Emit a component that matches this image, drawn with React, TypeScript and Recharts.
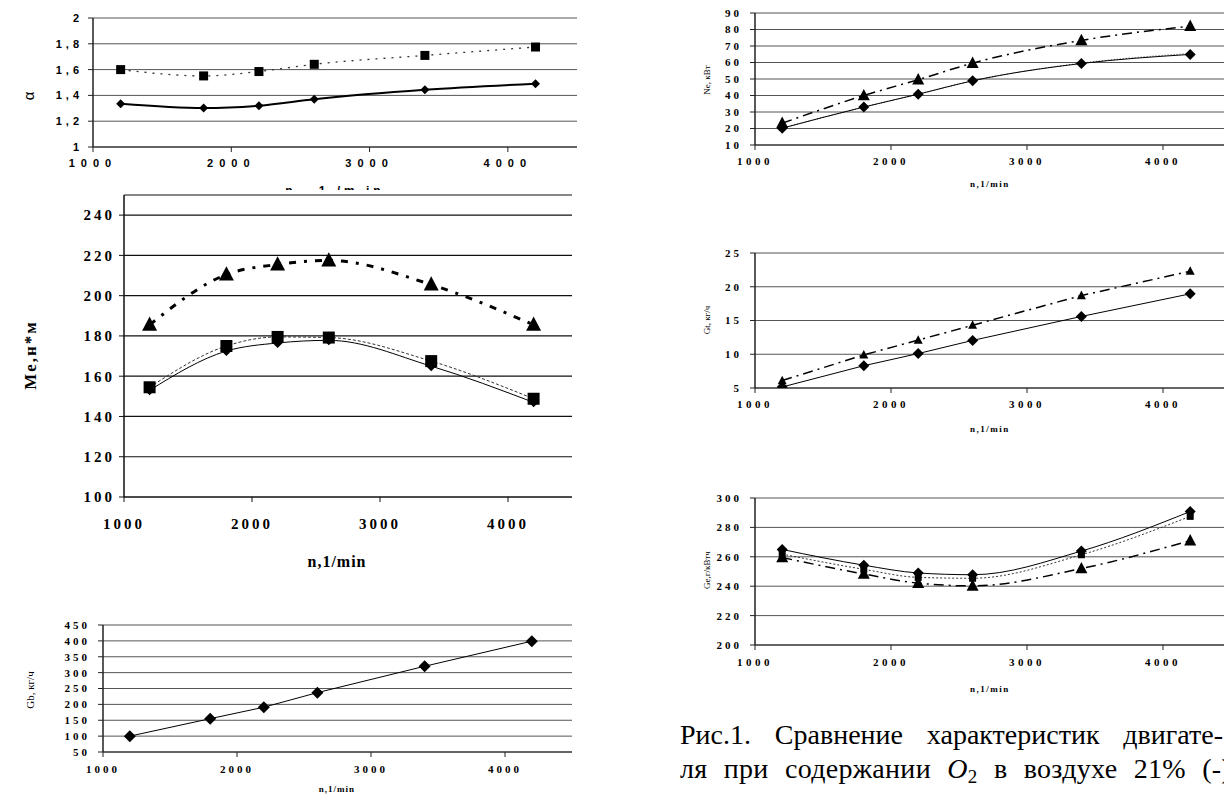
import React from 'react';
import { LineChart, Line, XAxis, YAxis, CartesianGrid } from 'recharts';

// ---------- data ----------
const rpm = [1200, 1800, 2200, 2600, 3400, 4200];
const rpmTicks = [1000, 2000, 3000, 4000];

// α (excess air ratio)
const alphaTicks = [1, 1.2, 1.4, 1.6, 1.8, 2];
const alphaSquare = [1.6, 1.551, 1.585, 1.641, 1.71, 1.775];
const alphaDiamond = [1.335, 1.302, 1.32, 1.37, 1.443, 1.49];

// Me, torque
const meTicks = [100, 120, 140, 160, 180, 200, 220, 240];
const meTriangle = [185.5, 210.5, 215.5, 217.5, 205.5, 185.5];
const meSquare = [154.5, 175, 179.5, 179.2, 167.5, 148.8];
const meDiamond = [153, 172.5, 176.5, 177.8, 165, 147];

// Gb, air flow
const gbTicks = [50, 100, 150, 200, 250, 300, 350, 400, 450];
const gbDiamond = [100, 155, 191, 237, 320, 399];

// Ne, power
const neTicks = [10, 20, 30, 40, 50, 60, 70, 80, 90];
const neTriangle = [23.2, 40, 49.6, 59.6, 73.4, 82];
const neDotted = [20.2, 33, 40.8, 48.9, 59.6, 65.5];
const neDiamond = [20.2, 33, 40.8, 48.9, 59.4, 64.9];

// Gt, fuel flow
const gtTicks = [5, 10, 15, 20, 25];
const gtTriangle = [6.1, 9.9, 12.1, 14.3, 18.7, 22.3];
const gtDiamond = [5.15, 8.3, 10.1, 12.05, 15.6, 18.95];

// Ge, specific fuel consumption
const geTicks = [200, 220, 240, 260, 280, 300];
const geDiamond = [265, 254.3, 249, 247.8, 263.9, 290.8];
const geSquare = [261.8, 251.5, 246, 245.4, 261.4, 287.5];
const geTriangle = [259.5, 248.3, 242.1, 240.2, 252, 271];

// ---------- helpers ----------
type Marker = 'diamond' | 'square' | 'triangle' | 'none';

function makeDot(kind: Marker, size: number) {
  return (p: any) => {
    const { cx, cy, index } = p;
    const key = `${kind}-${index}`;
    if (kind === 'none' || cx == null || cy == null) return <g key={key} />;
    const r = size / 2;
    if (kind === 'diamond')
      return <path key={key} d={`M${cx},${cy - r}L${cx + r},${cy}L${cx},${cy + r}L${cx - r},${cy}Z`} fill="#000" />;
    if (kind === 'square')
      return <rect key={key} x={cx - r} y={cy - r} width={size} height={size} fill="#000" />;
    return (
      <path key={key} d={`M${cx},${cy - size * 0.55}L${cx + r},${cy + size * 0.4}L${cx - r},${cy + size * 0.4}Z`} fill="#000" />
    );
  };
}

function makeTick(style: any, axis: 'x' | 'y', fmt?: (v: number) => string) {
  return (props: any) => {
    const { x, y, payload, index } = props;
    const v = payload?.value;
    const label = fmt ? fmt(v) : String(v);
    return (
      <text
        key={`t-${axis}-${index}`} x={x} y={y}
        dy={axis === 'x' ? '0.71em' : '0.355em'}
        textAnchor={axis === 'x' ? 'middle' : 'end'}
        style={style}
      >
        {label}
      </text>
    );
  };
}

interface SeriesSpec {
  name: string;
  values: number[];
  marker: Marker;
  size: number;
  stroke: string;
  width: number;
  dash?: string;
  curve: 'monotone' | 'linear';
}

interface PanelProps {
  left: number; top: number; width: number; height: number;
  plotLeft: number; plotTop: number; plotWidth: number; plotHeight: number;
  yDomain: [number, number]; yTicks: number[]; yFormat?: (v: number) => string;
  series: SeriesSpec[];
  xTick: any; yTick: any; xTickMargin: number; yTickMargin: number;
  gridColor: string; gridWidth?: number; axisColor: string;
}

function Panel(p: PanelProps) {
  const data = rpm.map((n, i) => {
    const row: any = { n };
    p.series.forEach((s) => (row[s.name] = s.values[i]));
    return row;
  });
  const yW = p.plotLeft - p.left;
  const mTop = p.plotTop - p.top;
  const xH = p.height - mTop - p.plotHeight;
  const mRight = p.width - yW - p.plotWidth;
  return (
    <div style={{ position: 'absolute', left: p.left, top: p.top }}>
      <LineChart width={p.width} height={p.height} data={data} margin={{ top: mTop, right: mRight, bottom: 0, left: 0 }}>
        <CartesianGrid vertical={false} stroke={p.gridColor} strokeWidth={p.gridWidth ?? 1} />
        <XAxis
          dataKey="n" type="number" domain={[1000, 4500]} ticks={rpmTicks} interval={0}
          height={xH} tickSize={5} tickMargin={p.xTickMargin}
          axisLine={{ stroke: p.axisColor }} tickLine={{ stroke: p.axisColor }}
          tick={makeTick(p.xTick, 'x')}
        />
        <YAxis
          type="number" domain={p.yDomain} ticks={p.yTicks} interval={0} width={yW}
          tickSize={5} tickMargin={p.yTickMargin}
          axisLine={{ stroke: p.axisColor, strokeWidth: 1.5 }} tickLine={{ stroke: p.axisColor }}
          tick={makeTick(p.yTick, 'y', p.yFormat)}
          allowDataOverflow
        />
        {p.series.map((s) => (
          <Line
            key={s.name} dataKey={s.name} type={s.curve} stroke={s.stroke} strokeWidth={s.width}
            strokeDasharray={s.dash} dot={makeDot(s.marker, s.size)} activeDot={false} isAnimationActive={false}
          />
        ))}
      </LineChart>
    </div>
  );
}

function Title({ x, y, text, rotate, style }: { x: number; y: number; text: React.ReactNode; rotate?: boolean; style?: any }) {
  return (
    <div
      style={{
        position: 'absolute', left: x, top: y, whiteSpace: 'nowrap', lineHeight: 1,
        transform: `translate(-50%, -50%)${rotate ? ' rotate(-90deg)' : ''}`, ...style,
      }}
    >
      {text}
    </div>
  );
}

const serifBold = (size: number, spacing: number) => ({
  fontFamily: '"Liberation Serif", serif', fontWeight: 700, fontSize: size, fill: '#000', letterSpacing: spacing,
});
const sansBold = (size: number, spacing: number) => ({
  fontFamily: '"Liberation Sans", sans-serif', fontWeight: 700, fontSize: size, fill: '#000', letterSpacing: spacing,
});

const commaFmt = (v: number) => (Number.isInteger(v) ? String(v) : v.toFixed(1).replace('.', ','));

const SERIF = '"Liberation Serif", serif';

export default function App() {
  return (
    <div style={{ position: 'absolute', left: 0, top: 0, width: 1224, height: 796, overflow: 'hidden', background: '#fff' }}>
      {/* α chart */}
      <div style={{ position: 'absolute', left: 0, top: 0, width: 600, height: 190, overflow: 'hidden' }}>
        <Panel
          left={0} top={0} width={600} height={190}
          plotLeft={93} plotTop={18} plotWidth={484} plotHeight={129}
          yDomain={[1, 2]} yTicks={alphaTicks} yFormat={commaFmt}
          xTick={sansBold(11, 6)} yTick={sansBold(11, 4)} xTickMargin={7} yTickMargin={5}
          gridColor="#555" axisColor="#222"
          series={[
            { name: 'sq', values: alphaSquare, marker: 'square', size: 9, stroke: '#333', width: 1.3, dash: '2 6', curve: 'monotone' },
            { name: 'di', values: alphaDiamond, marker: 'diamond', size: 9, stroke: '#000', width: 2, curve: 'monotone' },
          ]}
        />
        <div style={{ position: 'absolute', left: 235, top: 181, width: 200, height: 9, overflow: 'hidden', textAlign: 'center' }}>
          <span style={{ fontFamily: '"Liberation Sans", sans-serif', fontWeight: 700, fontSize: 12, letterSpacing: 4, lineHeight: '14px' }}>
            n , 1 /m in
          </span>
        </div>
      </div>
      <Title x={28} y={96} text="α" rotate style={{ fontFamily: '"Liberation Sans", sans-serif', fontSize: 15 }} />

      {/* Me chart */}
      <Panel
        left={0} top={190} width={600} height={400}
        plotLeft={124} plotTop={195} plotWidth={448} plotHeight={302}
        yDomain={[100, 250]} yTicks={meTicks}
        xTick={serifBold(15, 3)} yTick={serifBold(15, 3)} xTickMargin={16} yTickMargin={4}
        gridColor="#111" gridWidth={1.2} axisColor="#111"
        series={[
          { name: 'tr', values: meTriangle, marker: 'triangle', size: 15, stroke: '#000', width: 3, dash: '7 8 3 8', curve: 'monotone' },
          { name: 'sq', values: meSquare, marker: 'square', size: 12, stroke: '#333', width: 1, dash: '3 2', curve: 'monotone' },
          { name: 'di', values: meDiamond, marker: 'diamond', size: 10, stroke: '#000', width: 1, curve: 'monotone' },
        ]}
      />
      <Title x={30} y={355} text="Me,н*м" rotate style={{ fontFamily: SERIF, fontWeight: 700, fontSize: 17, letterSpacing: 2 }} />
      <Title x={337} y={562} text="n,1/min" style={{ fontFamily: SERIF, fontWeight: 700, fontSize: 16, letterSpacing: 1 }} />

      {/* Gb chart */}
      <Panel
        left={0} top={600} width={600} height={196}
        plotLeft={103} plotTop={625} plotWidth={469} plotHeight={127}
        yDomain={[50, 450]} yTicks={gbTicks}
        xTick={serifBold(11, 3)} yTick={serifBold(11, 3)} xTickMargin={8} yTickMargin={8}
        gridColor="#555" axisColor="#222"
        series={[
          { name: 'di', values: gbDiamond, marker: 'diamond', size: 12, stroke: '#000', width: 1, curve: 'linear' },
        ]}
      />
      <Title x={30} y={690} text="Gb, кг/ч" rotate style={{ fontFamily: SERIF, fontSize: 11 }} />
      <Title x={337} y={789} text="n,1/min" style={{ fontFamily: SERIF, fontWeight: 700, fontSize: 9, letterSpacing: 1 }} />

      {/* Ne chart */}
      <Panel
        left={700} top={0} width={540} height={200}
        plotLeft={755} plotTop={13} plotWidth={476} plotHeight={132}
        yDomain={[10, 90]} yTicks={neTicks}
        xTick={serifBold(11, 3.5)} yTick={serifBold(11, 3)} xTickMargin={7} yTickMargin={8}
        gridColor="#555" axisColor="#222"
        series={[
          { name: 'tr', values: neTriangle, marker: 'triangle', size: 12, stroke: '#000', width: 1.5, dash: '10 5 2 5', curve: 'monotone' },
          { name: 'dt', values: neDotted, marker: 'none', size: 0, stroke: '#444', width: 1, dash: '1 2', curve: 'monotone' },
          { name: 'di', values: neDiamond, marker: 'diamond', size: 11, stroke: '#000', width: 1, curve: 'monotone' },
        ]}
      />
      <Title x={707} y={80} text="Ne, кВт" rotate style={{ fontFamily: SERIF, fontSize: 9 }} />
      <Title x={990} y={184} text="n,1/min" style={{ fontFamily: SERIF, fontWeight: 700, fontSize: 9, letterSpacing: 1.5 }} />

      {/* Gt chart */}
      <Panel
        left={700} top={230} width={540} height={210}
        plotLeft={755} plotTop={253} plotWidth={476} plotHeight={135}
        yDomain={[5, 25]} yTicks={gtTicks}
        xTick={serifBold(11, 3.5)} yTick={serifBold(11, 3)} xTickMargin={7} yTickMargin={8}
        gridColor="#555" axisColor="#222"
        series={[
          { name: 'tr', values: gtTriangle, marker: 'triangle', size: 9, stroke: '#000', width: 1.5, dash: '10 5 2 5', curve: 'linear' },
          { name: 'di', values: gtDiamond, marker: 'diamond', size: 11, stroke: '#000', width: 1, curve: 'linear' },
        ]}
      />
      <Title x={707} y={320} text="Gt, кг/ч" rotate style={{ fontFamily: SERIF, fontSize: 9 }} />
      <Title x={990} y={429} text="n,1/min" style={{ fontFamily: SERIF, fontWeight: 700, fontSize: 9, letterSpacing: 1.5 }} />

      {/* Ge chart */}
      <Panel
        left={700} top={480} width={540} height={220}
        plotLeft={755} plotTop={498} plotWidth={476} plotHeight={147}
        yDomain={[200, 300]} yTicks={geTicks}
        xTick={serifBold(11, 3.5)} yTick={serifBold(11, 3)} xTickMargin={8} yTickMargin={8}
        gridColor="#555" axisColor="#222"
        series={[
          { name: 'sq', values: geSquare, marker: 'square', size: 7, stroke: '#333', width: 1, dash: '2 2', curve: 'monotone' },
          { name: 'tr', values: geTriangle, marker: 'triangle', size: 12, stroke: '#000', width: 1.5, dash: '10 5 2 5', curve: 'monotone' },
          { name: 'di', values: geDiamond, marker: 'diamond', size: 11, stroke: '#000', width: 1, curve: 'monotone' },
        ]}
      />
      <Title x={707} y={570} text="Ge,г/кВтч" rotate style={{ fontFamily: SERIF, fontSize: 9 }} />
      <Title x={990} y={689} text="n,1/min" style={{ fontFamily: SERIF, fontWeight: 700, fontSize: 9, letterSpacing: 1.5 }} />

      {/* caption */}
      <div style={{ position: 'absolute', left: 680, top: 718, width: 543, fontFamily: SERIF, fontSize: 28, lineHeight: '34px', textAlign: 'justify', textAlignLast: 'justify', whiteSpace: 'nowrap' } as any}>
        Рис.1. Сравнение характеристик двигате-
      </div>
      <div style={{ position: 'absolute', left: 680, top: 752, fontFamily: SERIF, fontSize: 28, lineHeight: '34px', letterSpacing: 0.3, wordSpacing: 9, whiteSpace: 'nowrap' } as any}>
        ля при содержании <i>O</i><sub style={{ fontSize: 19, verticalAlign: '-5px', lineHeight: 0 }}>2</sub> в воздухе 21% (-)
      </div>
    </div>
  );
}
